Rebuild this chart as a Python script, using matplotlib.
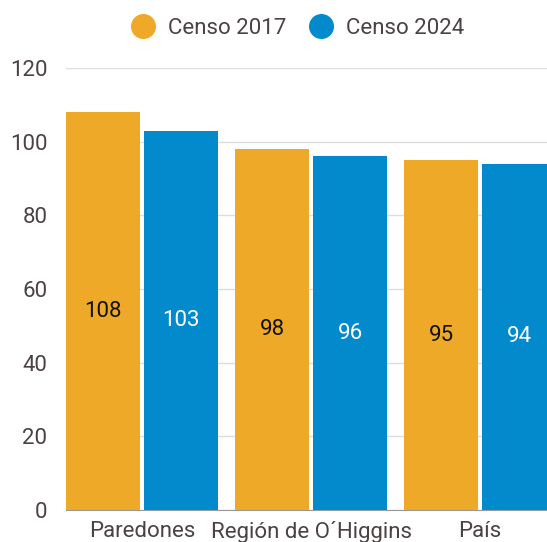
import matplotlib
matplotlib.use("Agg")
import numpy as np
import matplotlib.pyplot as plt
from matplotlib.lines import Line2D

categories = ["Paredones", "Región de O´Higgins", "País"]
censo_2017 = [108, 98, 95]
censo_2024 = [103, 96, 94]
series_names = ["Censo 2017", "Censo 2024"]
y_ticks = [0, 20, 40, 60, 80, 100, 120]

ORANGE = "#EFA928"
BLUE = "#028ACC"
TEXT = "#4b4343"

plt.rcParams["font.family"] = ["Roboto", "DejaVu Sans"]

fig = plt.figure(figsize=(5.47, 5.42), dpi=100)
ax = fig.add_axes([66 / 547, 32 / 542, 1 - 66 / 547, (510 - 68) / 542])

x = np.arange(len(categories))
w = 0.438
off = 0.2308
b1 = ax.bar(x - off, censo_2017, width=w, color=ORANGE, zorder=3)
b2 = ax.bar(x + off, censo_2024, width=w, color=BLUE, zorder=3)

# value labels centred inside the bars
for rect, v in zip(b1, censo_2017):
    ax.text(rect.get_x() + rect.get_width() / 2, v / 2, str(v),
            ha="center", va="center", fontsize=16, color="#111111", zorder=4)
for rect, v in zip(b2, censo_2024):
    ax.text(rect.get_x() + rect.get_width() / 2, v / 2, str(v),
            ha="center", va="center", fontsize=16, color="white", zorder=4)

ax.set_xlim(-0.45, 2.396)
ax.set_ylim(0, 120)
ax.set_yticks(y_ticks)
ax.set_xticks(x)
ax.set_xticklabels(categories)
ax.tick_params(axis="both", length=0, labelsize=16, colors=TEXT)
ax.tick_params(axis="y", pad=13.5)
ax.tick_params(axis="x", pad=8)
ax.grid(axis="y", color="#dddddd", linewidth=1, zorder=0)
for s in ["top", "right", "left"]:
    ax.spines[s].set_visible(False)
ax.spines["bottom"].set_color("#999999")
ax.spines["bottom"].set_zorder(5)

handles = [Line2D([], [], marker="o", linestyle="", markersize=17, color=ORANGE),
           Line2D([], [], marker="o", linestyle="", markersize=17, color=BLUE)]
fig.legend(handles, series_names, loc="center", bbox_to_anchor=(297 / 547, 1 - 28 / 542),
           ncol=2, frameon=False, fontsize=16, labelcolor=TEXT,
           handletextpad=0.53, columnspacing=0.95, handlelength=1.2)

fig.savefig("out.png", dpi=100)
